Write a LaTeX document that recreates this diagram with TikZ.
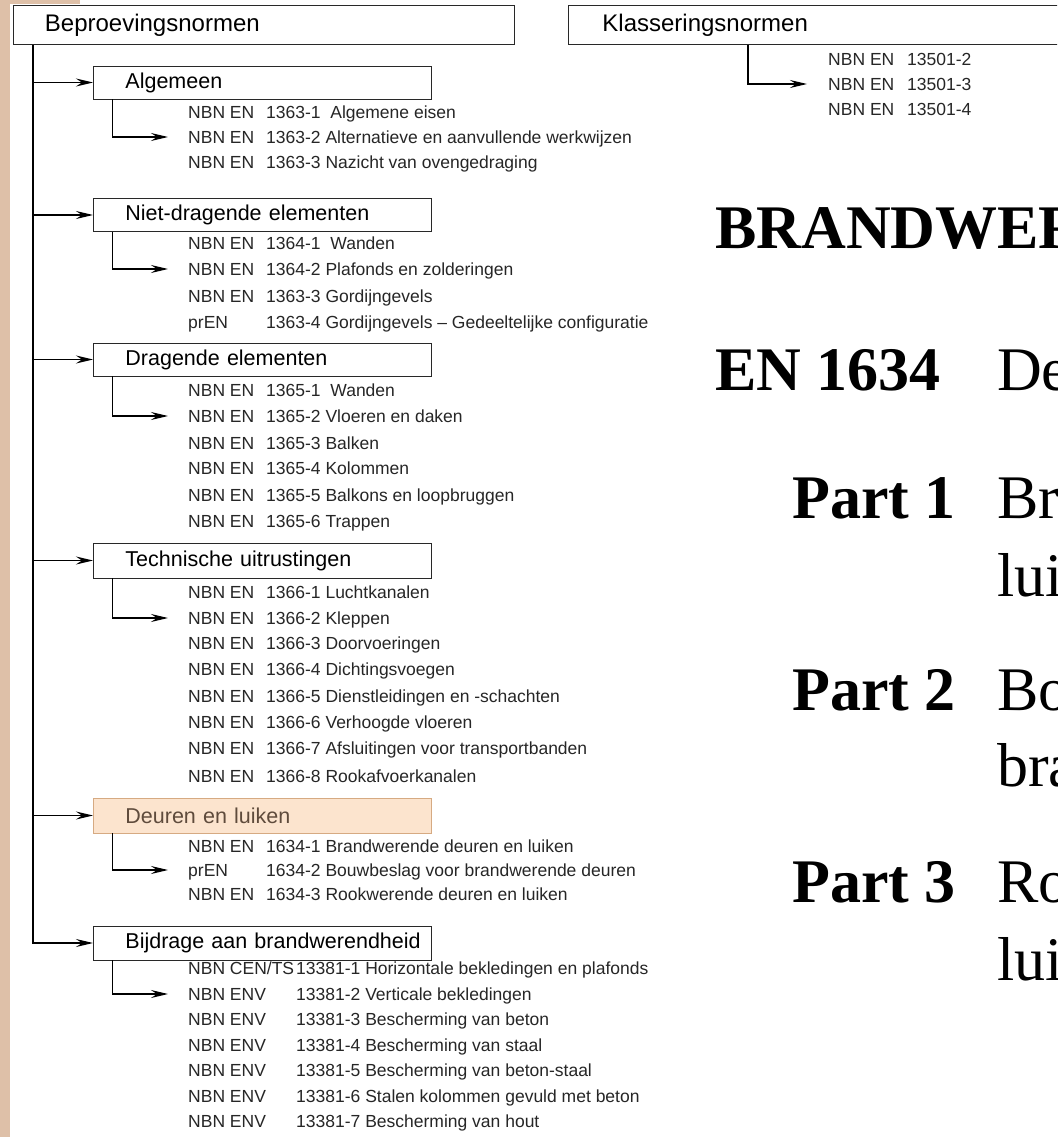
\documentclass[tikz,border=0pt]{standalone}
\usepackage{fontspec}
\setmainfont{Liberation Serif}
\newfontfamily\arial{Liberation Sans}
\usetikzlibrary{arrows.meta}

\definecolor{zand}{RGB}{222,192,168}
\definecolor{perzik}{RGB}{252,228,206}
\definecolor{perzikrand}{RGB}{214,170,130}
\definecolor{bruin}{RGB}{95,75,60}
\definecolor{lijn}{RGB}{40,40,40}

\begin{document}
\begin{tikzpicture}[x=1pt,y=-1pt,
        hoofd/.style={draw=lijn,line width=0.9pt,anchor=north west,minimum height=39pt,
            inner xsep=0pt,inner ysep=0pt,align=left,font=\arial\fontsize{24}{28}\selectfont},
        groep/.style={draw=lijn,line width=0.9pt,anchor=west,minimum height=33pt,text width=338pt,
            inner xsep=0pt,inner ysep=0pt,align=left,execute at begin node={\hspace*{32pt}},
            font=\arial\fontsize{21.5}{25}\selectfont},
        norm/.style={anchor=west,inner sep=0pt,text height=12.5pt,text depth=0pt,
            text=black!85,font=\arial\fontsize{17.5}{21}\selectfont},
        pijl/.style={line width=1.2pt,-{Stealth[length=17pt,width=8pt,inset=6pt]}},
        titel/.style={anchor=base west,inner sep=0pt,font=\fontsize{62}{70}\selectfont}]
    \useasboundingbox (0,0) rectangle (1057,1137);
    \clip (0,0) rectangle (1057,1137);
    \fill[white] (0,0) rectangle (1057,1137);
    \fill[zand] (0,0) rectangle (10,1137);
    \fill[zand] (0,0) rectangle (80,4);

    % beproevingsnormen
    \node[hoofd,text width=501pt] (beproeving) at (12.5,5) {\hspace*{32pt}Beproevingsnormen};
    \coordinate (stam) at ([xshift=20.5pt]beproeving.south west);

    \node[groep] (alg) at (93,82.5) {Algemeen};
    \node[norm] (alg1) at (188,112) {\makebox[78pt][l]{NBN EN}1363-1\ \ Algemene eisen};
    \node[norm] (alg2) at (188,137) {\makebox[78pt][l]{NBN EN}1363-2 Alternatieve en aanvullende werkwijzen};
    \node[norm] (alg3) at (188,162) {\makebox[78pt][l]{NBN EN}1363-3 Nazicht van ovengedraging};

    \node[groep] (niet) at (93,215) {Niet-dragende elementen};
    \node[norm] (niet1) at (188,243) {\makebox[78pt][l]{NBN EN}1364-1\ \ Wanden};
    \node[norm] (niet2) at (188,269) {\makebox[78pt][l]{NBN EN}1364-2 Plafonds en zolderingen};
    \node[norm] (niet3) at (188,296) {\makebox[78pt][l]{NBN EN}1363-3 Gordijngevels};
    \node[norm] (niet4) at (188,322) {\makebox[78pt][l]{prEN}1363-4 Gordijngevels – Gedeeltelijke configuratie};

    \node[groep] (drag) at (93,359.5) {Dragende elementen};
    \node[norm] (drag1) at (188,390) {\makebox[78pt][l]{NBN EN}1365-1\ \ Wanden};
    \node[norm] (drag2) at (188,416) {\makebox[78pt][l]{NBN EN}1365-2 Vloeren en daken};
    \node[norm] (drag3) at (188,443) {\makebox[78pt][l]{NBN EN}1365-3 Balken};
    \node[norm] (drag4) at (188,468) {\makebox[78pt][l]{NBN EN}1365-4 Kolommen};
    \node[norm] (drag5) at (188,495) {\makebox[78pt][l]{NBN EN}1365-5 Balkons en loopbruggen};
    \node[norm] (drag6) at (188,521) {\makebox[78pt][l]{NBN EN}1365-6 Trappen};

    \node[groep,minimum height=35pt] (tech) at (93,560.5) {Technische uitrustingen};
    \node[norm] (tech1) at (188,592) {\makebox[78pt][l]{NBN EN}1366-1 Luchtkanalen};
    \node[norm] (tech2) at (188,618) {\makebox[78pt][l]{NBN EN}1366-2 Kleppen};
    \node[norm] (tech3) at (188,643) {\makebox[78pt][l]{NBN EN}1366-3 Doorvoeringen};
    \node[norm] (tech4) at (188,669) {\makebox[78pt][l]{NBN EN}1366-4 Dichtingsvoegen};
    \node[norm] (tech5) at (188,696) {\makebox[78pt][l]{NBN EN}1366-5 Dienstleidingen en -schachten};
    \node[norm] (tech6) at (188,722) {\makebox[78pt][l]{NBN EN}1366-6 Verhoogde vloeren};
    \node[norm] (tech7) at (188,748) {\makebox[78pt][l]{NBN EN}1366-7 Afsluitingen voor transportbanden};
    \node[norm] (tech8) at (188,776) {\makebox[78pt][l]{NBN EN}1366-8\ Rookafvoerkanalen};

    \node[groep,minimum height=35pt,fill=perzik,draw=perzikrand,text=bruin] (deur) at (93,815.5) {Deuren en luiken};
    \node[norm] (deur1) at (188,846) {\makebox[78pt][l]{NBN EN}1634-1 Brandwerende deuren en luiken};
    \node[norm] (deur2) at (188,870) {\makebox[78pt][l]{prEN}1634-2 Bouwbeslag voor brandwerende deuren};
    \node[norm] (deur3) at (188,894) {\makebox[78pt][l]{NBN EN}1634-3 Rookwerende deuren en luiken};

    \node[groep,minimum height=34pt] (bijdr) at (93,943) {Bijdrage aan brandwerendheid};
    \node[norm] (bijdr1) at (188,968) {\makebox[108pt][l]{NBN CEN/TS}13381-1 Horizontale bekledingen en plafonds};
    \node[norm] (bijdr2) at (188,994) {\makebox[108pt][l]{NBN ENV}13381-2 Verticale bekledingen};
    \node[norm] (bijdr3) at (188,1019) {\makebox[108pt][l]{NBN ENV}13381-3 Bescherming van beton};
    \node[norm] (bijdr4) at (188,1045) {\makebox[108pt][l]{NBN ENV}13381-4 Bescherming van staal};
    \node[norm] (bijdr5) at (188,1070) {\makebox[108pt][l]{NBN ENV}13381-5 Bescherming van beton-staal};
    \node[norm] (bijdr6) at (188,1096) {\makebox[108pt][l]{NBN ENV}13381-6 Stalen kolommen gevuld met beton};
    \node[norm] (bijdr7) at (188,1121) {\makebox[108pt][l]{NBN ENV}13381-7 Bescherming van hout};

    \draw[pijl] (stam) |- (bijdr.west);
    \draw[pijl] (stam |- alg.west) -- (alg.west);
    \draw[pijl] (stam |- niet.west) -- (niet.west);
    \draw[pijl] (stam |- drag.west) -- (drag.west);
    \draw[pijl] (stam |- tech.west) -- (tech.west);
    \draw[pijl] (stam |- deur.west) -- (deur.west);

    \draw[pijl] ([xshift=19.5pt]alg.south west) |- ([xshift=-20pt]alg2.west);
    \draw[pijl] ([xshift=19.5pt]niet.south west) |- ([xshift=-20pt]niet2.west);
    \draw[pijl] ([xshift=19.5pt]drag.south west) |- ([xshift=-20pt]drag2.west);
    \draw[pijl] ([xshift=19.5pt]tech.south west) |- ([xshift=-20pt]tech2.west);
    \draw[pijl] ([xshift=19.5pt]deur.south west) |- ([xshift=-20pt]deur2.west);
    \draw[pijl] ([xshift=19.5pt]bijdr.south west) |- ([xshift=-20pt]bijdr2.west);

    % klasseringsnormen
    \node[hoofd,text width=520pt] (klassering) at (568,5) {\hspace*{34pt}Klasseringsnormen};
    \node[norm] (klas1) at (828,59) {\makebox[79pt][l]{NBN EN}13501-2};
    \node[norm] (klas2) at (828,84) {\makebox[79pt][l]{NBN EN}13501-3};
    \node[norm] (klas3) at (828,109) {\makebox[79pt][l]{NBN EN}13501-4};
    \draw[pijl] ([xshift=180pt]klassering.south west) |- ([xshift=-21pt]klas2.west);

    % dia-tekst
    \node[titel] (kop) at (715,248) {\bfseries BRANDWER};
    \node[titel] (en) at (715,390) {\bfseries EN 1634};
    \node[titel] (en-t) at (997,390) {De};
    \node[titel] (deel1) at (792,518) {\bfseries Part 1};
    \node[titel] (deel1-t) at (997,518) {Br};
    \node[titel] (deel1-u) at (997,596) {lui};
    \node[titel] (deel2) at (792,710) {\bfseries Part 2};
    \node[titel] (deel2-t) at (997,710) {Bo};
    \node[titel] (deel2-u) at (997,786) {bra};
    \node[titel] (deel3) at (792,902) {\bfseries Part 3};
    \node[titel] (deel3-t) at (997,902) {Ro};
    \node[titel] (deel3-u) at (997,980) {lui};
\end{tikzpicture}
\end{document}
